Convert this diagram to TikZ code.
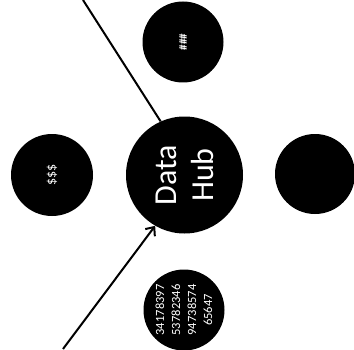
\documentclass[tikz,border=0pt]{standalone}
\usepackage{fontspec}
\setmainfont{Carlito}
\usepackage{tikz}
\usetikzlibrary{arrows.meta, calc}

\begin{document}
\begin{tikzpicture}[x=1pt, y=1pt,
                    blob/.style={circle, fill=black, text=white, inner sep=0pt, minimum size=#1, rotate=90, align=center},
                    feed/.style={line width=2pt, black},
                    feed_in/.style={feed, -{Straight Barb[length=7pt, width=12pt, line width=2pt]}}]

    \useasboundingbox (0,0) rectangle (354,349);

    \node[blob=117pt, font=\fontsize{32}{37}\selectfont] (hub) at (184.5,174) {Data\\Hub};

    \node[blob=81pt, font=\bfseries\fontsize{11}{12}\selectfont] (hash)  at (183,307) {\#\#\#};
    \node[blob=82pt, font=\fontsize{14}{15}\selectfont]          (cash)  at (52,174)  {\$\$\$};
    \node[blob=80pt]                                             (blank) at (315,175) {};
    \node[blob=81pt, font=\fontsize{12.5}{16}\selectfont]        (nums)  at (184,39)  {34178397\\53782346\\94738574\\65647};

    \coordinate (in_a) at (83,349);
    \coordinate (in_b) at (63,0);

    % anchors count in the rotated frame of the node
    \draw[feed]    (in_a) -- (hub.24);
    \draw[feed_in] (in_b) -- (hub.150);
\end{tikzpicture}
\end{document}
